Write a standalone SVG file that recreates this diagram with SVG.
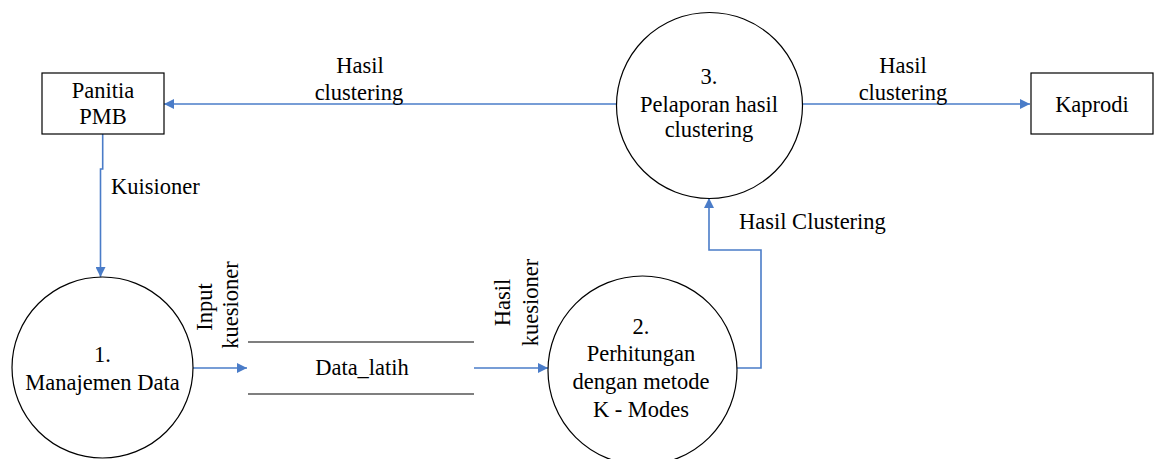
<svg xmlns="http://www.w3.org/2000/svg" width="1154" height="459" viewBox="0 0 1154 459">
  <style>
    .lbl { font-family: "Liberation Serif", "Times New Roman", serif; font-size: 22.5px; fill: #000; }
    .mid { text-anchor: middle; }
    .box { fill: #fff; stroke: #000; stroke-width: 1.2; }
    .proc { fill: #fff; stroke: #000; stroke-width: 1.2; }
    .flow { fill: none; stroke: #4a7cc8; stroke-width: 1.6; }
    .store { stroke: #000; stroke-width: 1.2; }
  </style>
  <defs>
    <marker id="arrow" viewBox="0 0 10 10" refX="10" refY="5" markerWidth="10" markerHeight="10" markerUnits="userSpaceOnUse" orient="auto">
      <path d="M0,0 L10,5 L0,10 Z" fill="#4a7cc8"/>
    </marker>
  </defs>

  <rect width="1154" height="459" fill="#fff"/>

  <!-- connectors -->
  <g id="connectors">
    <!-- Pelaporan -> Panitia PMB -->
    <path class="flow" d="M616,104 L164,104" marker-end="url(#arrow)"/>
    <text class="lbl mid" x="360" y="73">Hasil</text>
    <text class="lbl mid" x="359" y="100">clustering</text>

    <!-- Pelaporan -> Kaprodi -->
    <path class="flow" d="M803,104 L1030,104" marker-end="url(#arrow)"/>
    <text class="lbl mid" x="903" y="73">Hasil</text>
    <text class="lbl mid" x="903" y="100">clustering</text>

    <!-- Panitia PMB -> Manajemen Data -->
    <path class="flow" d="M102.7,134 L102.7,169 L100.5,169 L100.5,277" marker-end="url(#arrow)"/>
    <text class="lbl" x="111" y="194">Kuisioner</text>

    <!-- Manajemen Data -> Data_latih -->
    <path class="flow" d="M193,368 L247,368" marker-end="url(#arrow)"/>
    <text class="lbl mid" transform="translate(212,307) rotate(-90)">Input</text>
    <text class="lbl mid" transform="translate(238,305) rotate(-90)">kuesioner</text>

    <!-- Data_latih -> Perhitungan -->
    <path class="flow" d="M474,368 L548,368" marker-end="url(#arrow)"/>
    <text class="lbl mid" transform="translate(510,302.5) rotate(-90)">Hasil</text>
    <text class="lbl mid" transform="translate(538,302.5) rotate(-90)">kuesioner</text>

    <!-- Perhitungan -> Pelaporan -->
    <path class="flow" d="M737,368 L761,368 L761,250 L709,250 L709,198" marker-end="url(#arrow)"/>
    <text class="lbl" x="739" y="229">Hasil Clustering</text>
  </g>

  <!-- external entity: Panitia PMB -->
  <g id="panitia-pmb">
    <rect class="box" x="42" y="73" width="122" height="61"/>
    <text class="lbl mid" x="103" y="98">Panitia</text>
    <text class="lbl mid" x="103" y="124">PMB</text>
  </g>

  <!-- external entity: Kaprodi -->
  <g id="kaprodi">
    <rect class="box" x="1031" y="73" width="122" height="61"/>
    <text class="lbl mid" x="1092" y="112">Kaprodi</text>
  </g>

  <!-- process 1 -->
  <g id="proses-1">
    <circle class="proc" cx="102.5" cy="367.5" r="90.5"/>
    <text class="lbl mid" x="102.5" y="362">1.</text>
    <text class="lbl mid" x="102.5" y="390">Manajemen Data</text>
  </g>

  <!-- process 2 -->
  <g id="proses-2">
    <circle class="proc" cx="642.5" cy="370.5" r="94.5"/>
    <text class="lbl mid" x="641" y="334">2.</text>
    <text class="lbl mid" x="641" y="361">Perhitungan</text>
    <text class="lbl mid" x="641" y="389">dengan metode</text>
    <text class="lbl mid" x="641" y="417">K - Modes</text>
  </g>

  <!-- process 3 -->
  <g id="proses-3">
    <circle class="proc" cx="709.5" cy="105.5" r="93"/>
    <text class="lbl mid" x="709" y="84">3.</text>
    <text class="lbl mid" x="709" y="112">Pelaporan hasil</text>
    <text class="lbl mid" x="709" y="137">clustering</text>
  </g>

  <!-- data store: Data_latih -->
  <g id="data-latih">
    <line class="store" x1="248" y1="342" x2="474" y2="342"/>
    <line class="store" x1="248" y1="394" x2="474" y2="394"/>
    <text class="lbl mid" x="362" y="375">Data_latih</text>
  </g>
</svg>
